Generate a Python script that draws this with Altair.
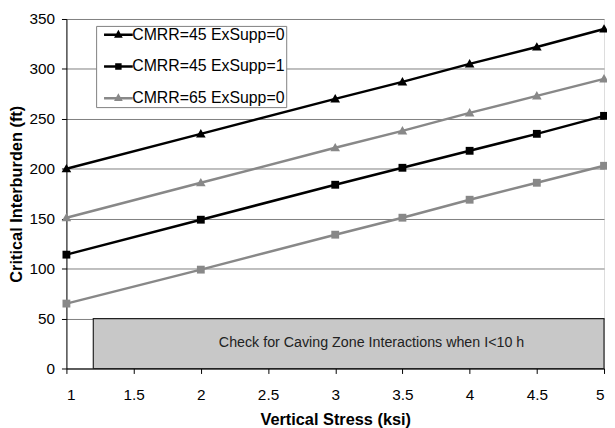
import altair as alt
import pandas as pd

# ---- data ----
stress = [1, 2, 3, 3.5, 4, 4.5, 5]
cmrr45_ex0 = [200, 235, 270, 287, 305, 322, 340]
cmrr45_ex1 = [114, 149, 184, 201, 218, 235, 253]
cmrr65_ex0 = [151, 186, 221, 238, 256, 273, 290]
cmrr65_ex1 = [65, 99, 134, 151, 169, 186, 203]

legend_series = ["CMRR=45 ExSupp=0", "CMRR=45 ExSupp=1", "CMRR=65 ExSupp=0"]
x_ticks = [1, 1.5, 2, 2.5, 3, 3.5, 4, 4.5, 5]
y_ticks = [0, 50, 100, 150, 200, 250, 300, 350]

zone_x = [1.2, 5]
zone_y = [0, 50]
zone_label = "Check for Caving Zone Interactions when I<10 h"
zone_label_pos = [3.27, 25]

# ---- styles ----
BLACK = "#000000"
GRAY = "#888888"
FONT = "Liberation Sans"
# plot markers (path units scaled by sqrt(size)/2)
TRI = "M0,-0.27L0.27,0.2L-0.27,0.2Z"
SQR = "M-0.22,-0.22H0.22V0.22H-0.22Z"
MARK_SIZE = 1296
# legend symbols: a line segment with a marker (symbolSize 100 -> unit = 5px)
LEG_TRI = "M-2.9,0H2.9M0,-0.5L0.46,0.34L-0.46,0.34Z"
LEG_SQR = "M-2.9,0H2.9M-0.4,-0.4H0.4V0.4H-0.4Z"
series_colors = [BLACK, BLACK, GRAY]
legend_shapes = [LEG_TRI, LEG_SQR, LEG_TRI]
series_styles = [(BLACK, TRI), (BLACK, SQR), (GRAY, TRI), (GRAY, SQR)]

all_values = [cmrr45_ex0, cmrr45_ex1, cmrr65_ex0, cmrr65_ex1]

xscale = alt.Scale(domain=[1, 5], nice=False, zero=False)
yscale = alt.Scale(domain=[0, 350], nice=False)

x_axis = alt.Axis(values=x_ticks, format="~g", title="Vertical Stress (ksi)", grid=False,
                  domainColor=BLACK, tickColor=BLACK, tickSize=5, labelPadding=14,
                  labelFont=FONT, labelFontSize=15.5, labelColor=BLACK,
                  titleFont=FONT, titleFontSize=16.5, titleFontWeight="bold", titleColor=BLACK,
                  titleY=52, titleBaseline="middle")
y_axis = alt.Axis(values=y_ticks, title="Critical Interburden (ft)", grid=True, gridColor="#808080",
                  domainColor=BLACK, tickColor=BLACK, tickSize=5, labelPadding=7,
                  labelFont=FONT, labelFontSize=15.5, labelColor=BLACK,
                  titleFont=FONT, titleFontSize=16.5, titleFontWeight="bold", titleColor=BLACK,
                  titleX=-50, titleBaseline="middle")

X = alt.X("stress:Q", scale=xscale, axis=x_axis)
Y = alt.Y("value:Q", scale=yscale, axis=y_axis)

zone = alt.Chart(pd.DataFrame({"x": [zone_x[0]], "x2": [zone_x[1]],
                               "y": [zone_y[0]], "y2": [zone_y[1]]})).mark_rect(
    fill="#c8c8c8", stroke="#222222", strokeWidth=1.2).encode(
    x=alt.X("x:Q", scale=xscale, axis=x_axis), x2="x2:Q",
    y=alt.Y("y:Q", scale=yscale, axis=y_axis), y2="y2:Q")
zone_text = alt.Chart(pd.DataFrame({"x": [zone_label_pos[0]], "y": [zone_label_pos[1]],
                                    "t": [zone_label]})).mark_text(
    font=FONT, fontSize=14.4, color="#222222").encode(
    x=alt.X("x:Q", scale=xscale), y=alt.Y("y:Q", scale=yscale), text="t:N")

layers = [zone, zone_text]
for vals, (col, shp) in zip(all_values, series_styles):
    d = pd.DataFrame({"stress": stress, "value": vals})
    layers.append(alt.Chart(d).mark_line(strokeWidth=2.5, color=col).encode(x=X, y=Y))
    layers.append(alt.Chart(d).mark_point(filled=True, size=MARK_SIZE, opacity=1, color=col,
                                          shape=shp, strokeWidth=0).encode(x=X, y=Y))

# invisible layer that only drives the legend
leg_rows = []
for name, vals in zip(legend_series, all_values[:3]):
    for s, v in zip(stress, vals):
        leg_rows.append({"stress": s, "value": v, "series": name})
leg_df = pd.DataFrame(leg_rows)

legend = alt.Legend(orient="none", legendX=30, legendY=7, title=None, symbolSize=100,
                    symbolStrokeWidth=2.5, symbolOpacity=1, symbolOffset=13.5,
                    labelFont=FONT, labelFontSize=16, labelColor=BLACK, labelOffset=6,
                    padding=1, rowPadding=16, strokeColor="#808080", fillColor="white")
leg_scale_c = alt.Scale(domain=legend_series, range=series_colors)
legend_layer = alt.Chart(leg_df).mark_point(filled=True, opacity=0, size=1).encode(
    x=X, y=Y,
    fill=alt.Fill("series:N", scale=leg_scale_c, legend=legend),
    stroke=alt.Stroke("series:N", scale=leg_scale_c, legend=legend),
    shape=alt.Shape("series:N", scale=alt.Scale(domain=legend_series, range=legend_shapes),
                    legend=legend))
layers.append(legend_layer)

chart = alt.layer(*layers).properties(
    width=543, height=353,
    autosize=alt.AutoSizeParams(type="none"),
    padding={"left": 59, "top": 9, "right": 3, "bottom": 58},
).configure_view(stroke="#808080", strokeWidth=1).configure(background="white")

chart.save("out.html", embed_options={"renderer": "svg", "actions": False})
